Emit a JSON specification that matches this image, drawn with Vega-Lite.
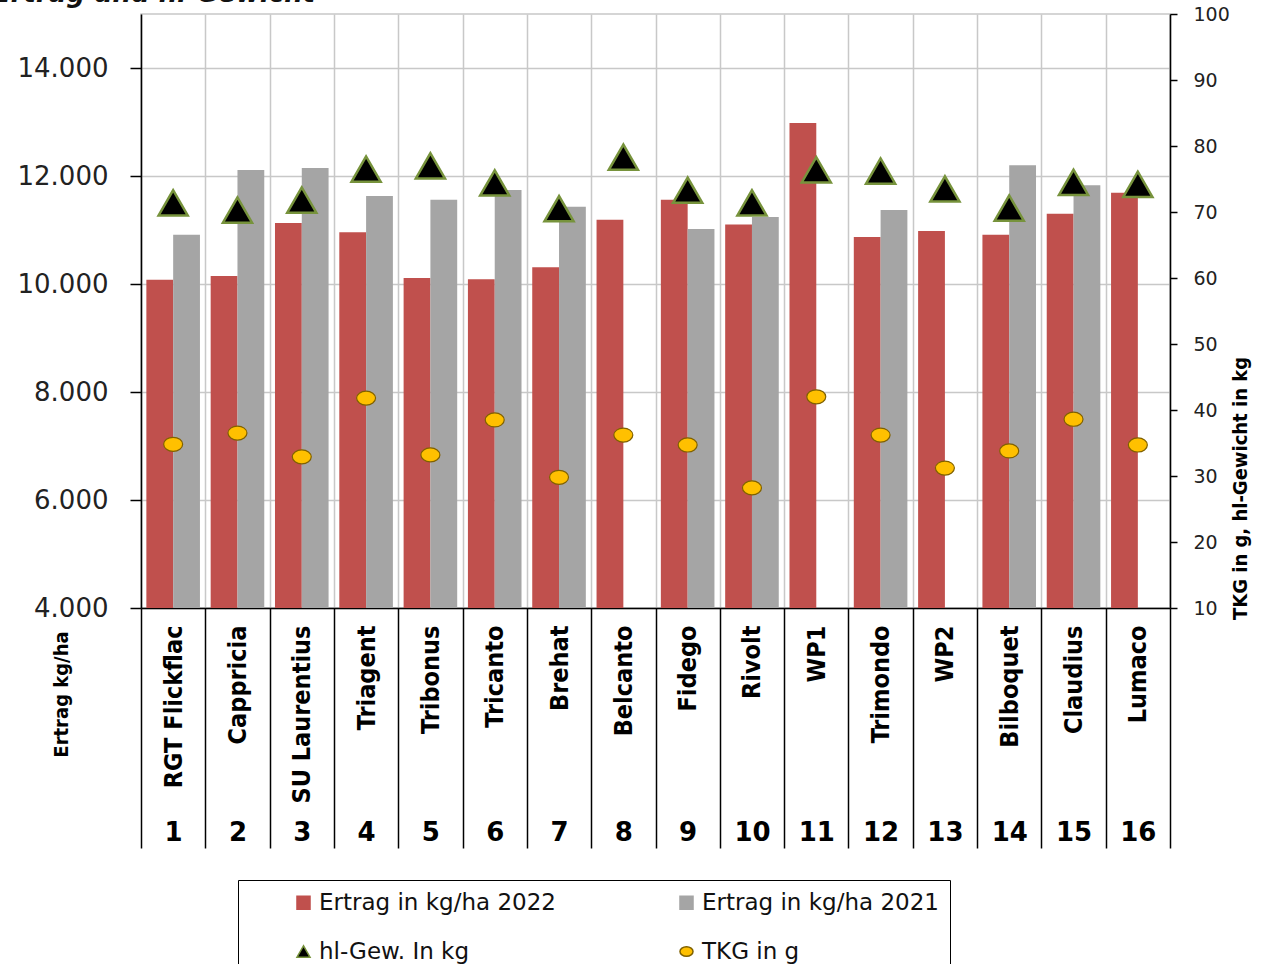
{
  "$schema": "https://vega.github.io/schema/vega-lite/v6.json",
  "autosize": {"type": "none"},
  "width": 1029,
  "height": 594,
  "padding": {"left": 141, "top": 14, "right": 94, "bottom": 356},
  "background": "white",
  "title": {"text": "Ertrag und hl-Gewicht", "anchor": "start", "frame": "group", "font": "DejaVu Sans", "fontSize": 26, "fontWeight": "bold", "fontStyle": "italic", "color": "#111111", "dx": -148, "offset": -2},
  "config": {
    "view": {"stroke": "#c8c8c8", "strokeWidth": 1.5},
    "axis": {"labelColor": "#222222", "titleColor": "#000000"}
  },
  "data": {"values": [
    {"Nr": 1, "Sorte": "RGT Flickflac", "Serie": "Ertrag in kg/ha 2022", "Wert": 10080},
    {"Nr": 1, "Sorte": "RGT Flickflac", "Serie": "Ertrag in kg/ha 2021", "Wert": 10910},
    {"Nr": 1, "Sorte": "RGT Flickflac", "Serie": "hl-Gew. In kg", "Wert": 71.4},
    {"Nr": 1, "Sorte": "RGT Flickflac", "Serie": "TKG in g", "Wert": 34.8},
    {"Nr": 2, "Sorte": "Cappricia", "Serie": "Ertrag in kg/ha 2022", "Wert": 10150},
    {"Nr": 2, "Sorte": "Cappricia", "Serie": "Ertrag in kg/ha 2021", "Wert": 12110},
    {"Nr": 2, "Sorte": "Cappricia", "Serie": "hl-Gew. In kg", "Wert": 70.3},
    {"Nr": 2, "Sorte": "Cappricia", "Serie": "TKG in g", "Wert": 36.5},
    {"Nr": 3, "Sorte": "SU Laurentius", "Serie": "Ertrag in kg/ha 2022", "Wert": 11130},
    {"Nr": 3, "Sorte": "SU Laurentius", "Serie": "Ertrag in kg/ha 2021", "Wert": 12150},
    {"Nr": 3, "Sorte": "SU Laurentius", "Serie": "hl-Gew. In kg", "Wert": 71.8},
    {"Nr": 3, "Sorte": "SU Laurentius", "Serie": "TKG in g", "Wert": 32.9},
    {"Nr": 4, "Sorte": "Triagent", "Serie": "Ertrag in kg/ha 2022", "Wert": 10960},
    {"Nr": 4, "Sorte": "Triagent", "Serie": "Ertrag in kg/ha 2021", "Wert": 11630},
    {"Nr": 4, "Sorte": "Triagent", "Serie": "hl-Gew. In kg", "Wert": 76.5},
    {"Nr": 4, "Sorte": "Triagent", "Serie": "TKG in g", "Wert": 41.8},
    {"Nr": 5, "Sorte": "Tribonus", "Serie": "Ertrag in kg/ha 2022", "Wert": 10110},
    {"Nr": 5, "Sorte": "Tribonus", "Serie": "Ertrag in kg/ha 2021", "Wert": 11560},
    {"Nr": 5, "Sorte": "Tribonus", "Serie": "hl-Gew. In kg", "Wert": 77.0},
    {"Nr": 5, "Sorte": "Tribonus", "Serie": "TKG in g", "Wert": 33.2},
    {"Nr": 6, "Sorte": "Tricanto", "Serie": "Ertrag in kg/ha 2022", "Wert": 10090},
    {"Nr": 6, "Sorte": "Tricanto", "Serie": "Ertrag in kg/ha 2021", "Wert": 11740},
    {"Nr": 6, "Sorte": "Tricanto", "Serie": "hl-Gew. In kg", "Wert": 74.4},
    {"Nr": 6, "Sorte": "Tricanto", "Serie": "TKG in g", "Wert": 38.5},
    {"Nr": 7, "Sorte": "Brehat", "Serie": "Ertrag in kg/ha 2022", "Wert": 10310},
    {"Nr": 7, "Sorte": "Brehat", "Serie": "Ertrag in kg/ha 2021", "Wert": 11430},
    {"Nr": 7, "Sorte": "Brehat", "Serie": "hl-Gew. In kg", "Wert": 70.5},
    {"Nr": 7, "Sorte": "Brehat", "Serie": "TKG in g", "Wert": 29.8},
    {"Nr": 8, "Sorte": "Belcanto", "Serie": "Ertrag in kg/ha 2022", "Wert": 11190},
    {"Nr": 8, "Sorte": "Belcanto", "Serie": "hl-Gew. In kg", "Wert": 78.3},
    {"Nr": 8, "Sorte": "Belcanto", "Serie": "TKG in g", "Wert": 36.2},
    {"Nr": 9, "Sorte": "Fidego", "Serie": "Ertrag in kg/ha 2022", "Wert": 11560},
    {"Nr": 9, "Sorte": "Fidego", "Serie": "Ertrag in kg/ha 2021", "Wert": 11020},
    {"Nr": 9, "Sorte": "Fidego", "Serie": "hl-Gew. In kg", "Wert": 73.3},
    {"Nr": 9, "Sorte": "Fidego", "Serie": "TKG in g", "Wert": 34.7},
    {"Nr": 10, "Sorte": "Rivolt", "Serie": "Ertrag in kg/ha 2022", "Wert": 11100},
    {"Nr": 10, "Sorte": "Rivolt", "Serie": "Ertrag in kg/ha 2021", "Wert": 11240},
    {"Nr": 10, "Sorte": "Rivolt", "Serie": "hl-Gew. In kg", "Wert": 71.4},
    {"Nr": 10, "Sorte": "Rivolt", "Serie": "TKG in g", "Wert": 28.2},
    {"Nr": 11, "Sorte": "WP1", "Serie": "Ertrag in kg/ha 2022", "Wert": 12980},
    {"Nr": 11, "Sorte": "WP1", "Serie": "hl-Gew. In kg", "Wert": 76.4},
    {"Nr": 11, "Sorte": "WP1", "Serie": "TKG in g", "Wert": 42.0},
    {"Nr": 12, "Sorte": "Trimondo", "Serie": "Ertrag in kg/ha 2022", "Wert": 10870},
    {"Nr": 12, "Sorte": "Trimondo", "Serie": "Ertrag in kg/ha 2021", "Wert": 11370},
    {"Nr": 12, "Sorte": "Trimondo", "Serie": "hl-Gew. In kg", "Wert": 76.2},
    {"Nr": 12, "Sorte": "Trimondo", "Serie": "TKG in g", "Wert": 36.2},
    {"Nr": 13, "Sorte": "WP2", "Serie": "Ertrag in kg/ha 2022", "Wert": 10980},
    {"Nr": 13, "Sorte": "WP2", "Serie": "hl-Gew. In kg", "Wert": 73.5},
    {"Nr": 13, "Sorte": "WP2", "Serie": "TKG in g", "Wert": 31.2},
    {"Nr": 14, "Sorte": "Bilboquet", "Serie": "Ertrag in kg/ha 2022", "Wert": 10910},
    {"Nr": 14, "Sorte": "Bilboquet", "Serie": "Ertrag in kg/ha 2021", "Wert": 12200},
    {"Nr": 14, "Sorte": "Bilboquet", "Serie": "hl-Gew. In kg", "Wert": 70.6},
    {"Nr": 14, "Sorte": "Bilboquet", "Serie": "TKG in g", "Wert": 33.8},
    {"Nr": 15, "Sorte": "Claudius", "Serie": "Ertrag in kg/ha 2022", "Wert": 11300},
    {"Nr": 15, "Sorte": "Claudius", "Serie": "Ertrag in kg/ha 2021", "Wert": 11830},
    {"Nr": 15, "Sorte": "Claudius", "Serie": "hl-Gew. In kg", "Wert": 74.5},
    {"Nr": 15, "Sorte": "Claudius", "Serie": "TKG in g", "Wert": 38.6},
    {"Nr": 16, "Sorte": "Lumaco", "Serie": "Ertrag in kg/ha 2022", "Wert": 11690},
    {"Nr": 16, "Sorte": "Lumaco", "Serie": "hl-Gew. In kg", "Wert": 74.2},
    {"Nr": 16, "Sorte": "Lumaco", "Serie": "TKG in g", "Wert": 34.7}
  ]},
  "layer": [
    {
      "transform": [{"filter": {"field": "Serie", "oneOf": ["Ertrag in kg/ha 2022", "Ertrag in kg/ha 2021"]}}],
      "mark": {"type": "bar", "clip": true},
      "encoding": {
        "x": {
          "field": "Sorte", "type": "nominal", "sort": {"field": "Nr", "op": "min"},
          "scale": {"paddingInner": 0, "paddingOuter": 0},
          "axis": {
            "orient": "bottom", "title": null, "labelAngle": 270, "labelAlign": "right", "labelBaseline": "middle",
            "labelFont": "Liberation Sans Narrow, DejaVu Sans Condensed, sans-serif", "labelFontWeight": "bold", "labelFontSize": 25, "labelColor": "#000000",
            "labelPadding": -223, "tickBand": "extent", "ticks": true, "tickSize": 240, "tickColor": "#000000", "tickWidth": 1.5,
            "grid": true, "gridColor": "#c8c8c8", "gridWidth": 1.5, "domainColor": "#000000", "domainWidth": 1.5, "labelLimit": 300
          }
        },
        "xOffset": {"field": "Serie", "type": "nominal", "sort": ["Ertrag in kg/ha 2022", "Ertrag in kg/ha 2021"], "scale": {"paddingOuter": 0.2, "paddingInner": 0}},
        "y": {
          "field": "Wert", "type": "quantitative",
          "scale": {"domain": [4000, 15000], "zero": false, "nice": false},
          "axis": {
            "orient": "left", "title": "Ertrag kg/ha", "titleFont": "Liberation Sans Narrow, DejaVu Sans Condensed, sans-serif", "titleFontWeight": "bold", "titleFontSize": 20,
            "titleAngle": 270, "titleX": -80, "titleY": 680, "titleAlign": "center", "titleBaseline": "middle",
            "values": [4000, 6000, 8000, 10000, 12000, 14000],
            "labelExpr": "replace(format(datum.value, ','), ',', '.')",
            "labelFont": "DejaVu Sans", "labelFontSize": 26, "labelPadding": 22,
            "tickSize": 11, "tickColor": "#000000", "tickWidth": 1.5, "domainColor": "#000000", "domainWidth": 1.5,
            "grid": true, "gridColor": "#c8c8c8", "gridWidth": 1.5
          }
        },
        "color": {
          "field": "Serie", "type": "nominal",
          "scale": {"domain": ["Ertrag in kg/ha 2022", "Ertrag in kg/ha 2021", "hl-Gew. In kg", "TKG in g"], "range": ["#c0504d", "#a5a5a5", "#000000", "#ffc000"]},
          "legend": {
            "orient": "none", "legendX": 97, "legendY": 866, "columns": 2, "title": null, "direction": "horizontal",
            "labelFont": "DejaVu Sans", "labelFontSize": 23, "labelColor": "#111111", "labelLimit": 500,
            "symbolSize": 170, "symbolStrokeWidth": 1.5, "symbolOffset": 43, "labelOffset": 4,
            "strokeColor": "#000000", "padding": 11, "columnPadding": 76, "rowPadding": 25
          }
        }
      }
    },
    {
      "transform": [{"filter": {"field": "Serie", "oneOf": ["hl-Gew. In kg", "TKG in g"]}}],
      "encoding": {
        "x": {"field": "Sorte", "type": "nominal", "sort": {"field": "Nr", "op": "min"}, "scale": {"paddingInner": 0, "paddingOuter": 0}, "axis": null},
        "y": {
          "field": "Wert", "type": "quantitative",
          "scale": {"domain": [10, 100], "zero": false, "nice": false},
          "axis": {
            "orient": "right", "title": "TKG in g, hl-Gewicht in kg", "titleFont": "Liberation Sans Narrow, DejaVu Sans Condensed, sans-serif", "titleFontWeight": "bold", "titleFontSize": 20,
            "titleAngle": 270, "titleX": 70, "titleY": 474, "titleAlign": "center", "titleBaseline": "middle",
            "values": [10, 20, 30, 40, 50, 60, 70, 80, 90, 100],
            "labelFont": "DejaVu Sans", "labelFontSize": 19, "labelPadding": 16,
            "tickSize": 7, "tickColor": "#000000", "tickWidth": 1.5, "domainColor": "#000000", "domainWidth": 1.5, "grid": false
          }
        },
        "color": {"field": "Serie", "type": "nominal"},
        "shape": {
          "field": "Serie", "type": "nominal",
          "scale": {"domain": ["Ertrag in kg/ha 2022", "Ertrag in kg/ha 2021", "hl-Gew. In kg", "TKG in g"], "range": ["square", "square", "triangle-up", "M-1,0A1,0.74,0,1,1,1,0A1,0.74,0,1,1,-1,0Z"]}
        },
        "stroke": {
          "field": "Serie", "type": "nominal",
          "scale": {"domain": ["Ertrag in kg/ha 2022", "Ertrag in kg/ha 2021", "hl-Gew. In kg", "TKG in g"], "range": ["#c0504d", "#a5a5a5", "#77933c", "#7f6000"]}
        }
      },
      "layer": [
        {"transform": [{"filter": "datum.Serie == 'hl-Gew. In kg'"}], "mark": {"type": "point", "filled": true, "opacity": 1, "size": 850, "strokeWidth": 2.5}},
        {"transform": [{"filter": "datum.Serie == 'TKG in g'"}], "mark": {"type": "point", "filled": true, "opacity": 1, "size": 360, "strokeWidth": 1.2}}
      ]
    },
    {
      "transform": [{"filter": "datum.Serie == 'Ertrag in kg/ha 2022'"}],
      "mark": {"type": "point", "opacity": 0},
      "encoding": {
        "x": {
          "field": "Nr", "type": "ordinal", "scale": {"paddingInner": 0, "paddingOuter": 0},
          "axis": {"orient": "bottom", "title": null, "ticks": false, "domain": false, "grid": false, "labelAngle": 0,
                   "labelFont": "DejaVu Sans", "labelFontWeight": "bold", "labelFontSize": 26, "labelColor": "#000000", "labelPadding": 211, "labelBaseline": "top"}
        }
      }
    }
  ],
  "resolve": {"scale": {"x": "independent", "y": "independent"}}
}
